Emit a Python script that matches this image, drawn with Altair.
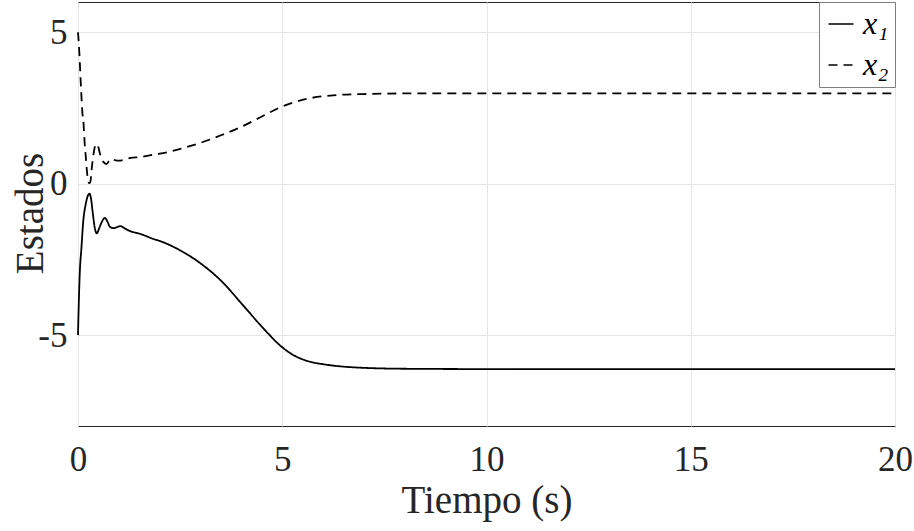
import altair as alt
import pandas as pd

# x1 (solid) samples
t1 = [0, 0.02, 0.05, 0.08, 0.13, 0.19, 0.24, 0.28, 0.32, 0.36, 0.41, 0.46, 0.51, 0.56,
      0.66, 0.72, 0.78, 0.88, 0.96, 1.04, 1.15, 1.25, 1.53, 1.86, 2.0, 2.5, 3.0, 3.5,
      4.0, 4.5, 5.0, 5.25, 5.5, 5.75, 6.0, 6.5, 7.0, 8.0, 10.0, 15.0, 20.0]
x1 = [-5.0, -3.9, -2.76, -2.2, -1.22, -0.67, -0.4, -0.33, -0.5, -0.95, -1.45, -1.64, -1.5, -1.33,
      -1.13, -1.25, -1.42, -1.47, -1.43, -1.40, -1.48, -1.55, -1.66, -1.83, -1.89, -2.2, -2.63, -3.2,
      -3.95, -4.72, -5.4, -5.64, -5.8, -5.9, -5.96, -6.04, -6.08, -6.11, -6.12, -6.12, -6.12]

# x2 (dashed) samples
t2 = [0, 0.03, 0.05, 0.08, 0.11, 0.13, 0.17, 0.19, 0.23, 0.27, 0.3, 0.34, 0.38, 0.42, 0.46,
      0.5, 0.54, 0.62, 0.7, 0.76, 0.82, 0.9, 1.0, 1.29, 1.52, 1.86, 2.0, 2.5, 3.0, 3.5, 4.0,
      4.5, 5.0, 5.6, 6.25, 7.0, 8.0, 10.0, 15.0, 20.0]
x2 = [5.0, 4.4, 3.84, 3.0, 2.3, 2.08, 1.2, 0.9, 0.26, 0.02, 0.05, 0.55, 0.98, 1.25, 1.31,
      1.2, 0.98, 0.72, 0.65, 0.75, 0.82, 0.78, 0.76, 0.85, 0.88, 0.96, 0.99, 1.15, 1.35, 1.6, 1.88,
      2.22, 2.55, 2.8, 2.92, 2.96, 2.98, 2.98, 2.98, 2.98]

series_names = ["x\u2081", "x\u2082"]
x_ticks = [0, 5, 10, 15, 20]
y_ticks = [-5, 0, 5]

df = pd.concat([
    pd.DataFrame({"t": t1, "v": x1, "s": series_names[0], "o": range(len(t1))}),
    pd.DataFrame({"t": t2, "v": x2, "s": series_names[1], "o": range(len(t2))}),
])

FONT = "'Liberation Serif', 'Times New Roman', 'DejaVu Serif', serif"
INK = "#262626"

chart = alt.Chart(df).mark_line(color="black", strokeWidth=1.8, interpolate="monotone").encode(
    x=alt.X("t:Q", scale=alt.Scale(domain=[0, 20], nice=False, zero=False),
            axis=alt.Axis(values=x_ticks, title="Tiempo (s)", ticks=False, labelPadding=16,
                          labelFlush=False,
                          titleY=86, titleBaseline="alphabetic")),
    y=alt.Y("v:Q", scale=alt.Scale(domain=[-8, 6], nice=False, zero=False),
            axis=alt.Axis(values=y_ticks, title="Estados", ticks=False, labelPadding=11,
                          labelFlush=False,
                          labelExpr="'' + datum.value",
                          titleX=-36, titleY=211, titleBaseline="alphabetic", titleAngle=270)),
    strokeDash=alt.StrokeDash("s:N",
        scale=alt.Scale(domain=series_names, range=[[1, 0], [9, 6]]),
        legend=alt.Legend(title=None, orient="top-right", offset=0, symbolType="stroke",
                          symbolSize=625, symbolStrokeWidth=1.5, symbolStrokeColor="black",
                          labelFont=FONT, labelFontSize=32, labelFontStyle="italic",
                          labelColor="black", padding=6, rowPadding=9, labelOffset=6,
                          strokeColor="#7f7f7f", fillColor="white")),
    order="o:Q",
).properties(
    width=817, height=424,
    autosize=alt.AutoSizeParams(type="none"),
    padding={"left": 78, "top": 2, "right": 19, "bottom": 105},
).configure(
    background="white"
).configure_view(
    stroke=INK, strokeWidth=1
).configure_axis(
    labelFont=FONT, labelFontSize=35, labelColor=INK, labelFontWeight="normal",
    titleFont=FONT, titleFontSize=39, titleColor=INK, titleFontWeight="normal",
    gridColor="#e6e6e6", gridWidth=1, domain=False,
)

chart.save("out.html", embed_options={"renderer": "svg", "actions": False})
